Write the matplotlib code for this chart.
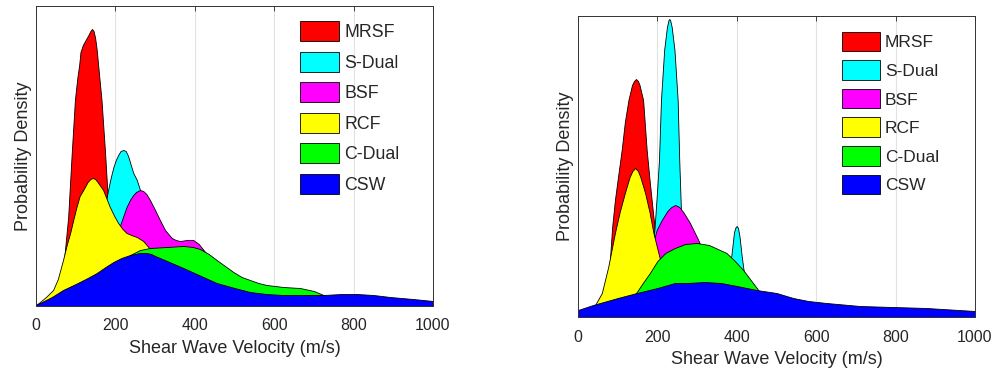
import numpy as np
import matplotlib.pyplot as plt
from matplotlib.patches import Patch

plt.rcParams['font.family'] = ['Liberation Sans', 'DejaVu Sans']

names = ['MRSF', 'S-Dual', 'BSF', 'RCF', 'C-Dual', 'CSW']
colors = ['#ff0000', '#00ffff', '#ff00ff', '#ffff00', '#00ff00', '#0000ff']
xticks = [0, 200, 400, 600, 800, 1000]

# left panel: velocity (m/s) and relative density
mrsf1_v = [30, 50, 60, 68, 73, 81, 90, 98, 104, 109, 112, 118, 125, 132, 137, 141, 145, 149, 153, 157, 165, 174, 180, 188, 200, 215, 240, 280]
mrsf1_d = [0, 3, 15, 35, 56, 89, 153, 206, 228, 242, 254, 261, 266, 271, 275, 277, 275, 268, 256, 239, 206, 153, 113, 70, 35, 15, 5, 0]
sdual1_v = [80, 100, 120, 140, 160, 170, 180, 188, 195, 201, 207, 213, 220, 226, 232, 238, 245, 254, 262, 280, 300, 330, 370, 400, 450, 500, 600, 700]
sdual1_d = [0, 4, 12, 30, 65, 90, 113, 128, 139, 146, 151, 155, 156, 155, 150, 142, 133, 126, 116, 85, 60, 40, 30, 25, 15, 8, 2, 0]
bsf1_v = [100, 120, 140, 160, 180, 200, 212, 228, 238, 245, 252, 262, 270, 278, 287, 300, 312, 325, 342, 352, 363, 380, 396, 410, 426, 440, 460, 500, 550, 600, 700]
bsf1_d = [0, 2, 8, 20, 40, 65, 81, 99, 107, 111, 114, 116, 115, 112, 106, 96, 86, 76, 68, 66, 65, 66, 66, 62, 54, 45, 35, 20, 10, 5, 0]
rcf1_v = [0, 10, 25, 43, 55, 68, 78, 86, 95, 102, 110, 119, 130, 137, 143, 149, 155, 169, 186, 197, 207, 218, 228, 240, 254, 270, 283, 295, 310, 340, 380, 450, 550]
rcf1_d = [1, 4, 9, 16, 27, 46, 62, 73, 88, 99, 110, 116, 124, 127, 128, 127, 124, 116, 99, 90, 83, 77, 73, 71, 69, 65, 59, 50, 40, 25, 12, 4, 0]
cdual1_v = [0, 50, 100, 150, 200, 237, 262, 287, 330, 371, 395, 413, 435, 455, 476, 497, 518, 539, 560, 581, 623, 665, 700, 724, 760, 800, 900, 1000]
cdual1_d = [0, 3, 10, 22, 38, 51, 56, 58, 59, 60, 59, 57, 52, 46, 40, 34, 29, 26, 23, 21, 19, 18, 15, 11, 6, 3, 1, 0]
csw1_v = [0, 20, 40, 68, 100, 130, 153, 175, 195, 215, 237, 250, 260, 270, 279, 290, 300, 330, 371, 410, 455, 500, 539, 580, 623, 680, 724, 770, 808, 850, 892, 950, 1000]
csw1_d = [1, 5, 9, 16, 22, 28, 33, 39, 44, 48, 51, 52, 53, 53, 53, 52, 50, 45, 38, 31, 23, 18, 14, 12, 11, 11, 11, 12, 12, 11, 9, 7, 5]

# right panel
mrsf2_v = [0, 50, 65, 75, 80, 86, 93, 100, 110, 118, 127, 136, 141, 146, 151, 155, 164, 173, 181, 190, 200, 210, 225, 250, 300]
mrsf2_d = [0, 2, 10, 30, 55, 90, 117, 138, 167, 195, 217, 232, 236, 238, 236, 232, 217, 167, 134, 100, 65, 35, 12, 3, 0]
sdual2_v = [150, 160, 175, 185, 193, 199, 204, 209, 217, 224, 228, 230, 232, 236, 243, 251, 255, 259, 265, 275, 300, 340, 370, 380, 387, 393, 397, 400, 403, 407, 412, 416, 425, 440, 480, 550]
sdual2_d = [0, 5, 20, 50, 90, 125, 157, 217, 267, 290, 297, 298, 297, 290, 267, 217, 157, 110, 70, 45, 30, 25, 32, 42, 64, 85, 90, 91, 89, 80, 62, 50, 25, 10, 3, 0]
bsf2_v = [100, 120, 140, 160, 180, 198, 211, 225, 235, 245, 255, 265, 282, 303, 330, 360, 400, 440, 480]
bsf2_d = [0, 4, 12, 30, 60, 87, 97, 106, 110, 112, 110, 105, 94, 77, 50, 30, 15, 6, 0]
rcf2_v = [0, 20, 43, 60, 76, 93, 105, 118, 130, 137, 144, 151, 157, 169, 180, 190, 200, 207, 220, 240, 270, 300, 350]
rcf2_d = [0, 3, 12, 24, 50, 84, 105, 124, 140, 146, 149, 146, 140, 124, 105, 84, 68, 57, 40, 22, 8, 3, 0]
cdual2_v = [60, 100, 130, 148, 165, 181, 200, 220, 244, 270, 299, 330, 374, 395, 416, 435, 454, 480, 520, 580]
cdual2_d = [0, 5, 15, 25, 35, 44, 56, 64, 69, 73, 74, 72, 64, 56, 47, 37, 27, 14, 5, 0]
csw2_v = [0, 38, 100, 148, 200, 244, 274, 320, 360, 400, 450, 500, 542, 580, 626, 710, 793, 878, 1000]
csw2_d = [7, 12, 19, 24, 29, 34, 34, 35, 34, 31, 27, 24, 19, 16, 14, 11, 10, 9, 6]

left = [(mrsf1_v, mrsf1_d), (sdual1_v, sdual1_d), (bsf1_v, bsf1_d),
        (rcf1_v, rcf1_d), (cdual1_v, cdual1_d), (csw1_v, csw1_d)]
right = [(mrsf2_v, mrsf2_d), (sdual2_v, sdual2_d), (bsf2_v, bsf2_d),
         (rcf2_v, rcf2_d), (cdual2_v, cdual2_d), (csw2_v, csw2_d)]

fig = plt.figure(figsize=(9.95, 3.74), dpi=100)
ax1 = fig.add_axes([36 / 995, 68 / 374, 397 / 995, 300 / 374])
ax2 = fig.add_axes([578 / 995, 57 / 374, 397 / 995, 301 / 374])

text_c = '#262626'


def panel(ax, curves, ytop, leg_anchor, fs, spacing):
    for (v, d), c in zip(curves, colors):
        ax.fill_between(v, d, 0, facecolor=c, edgecolor='black', linewidth=0.6)
    ax.set_xlim(0, 1000)
    ax.set_ylim(0, ytop)
    ax.set_xticks(xticks)
    ax.set_yticks([])
    ax.grid(axis='x', color='#e2e2e2', linewidth=0.8)
    ax.set_axisbelow(True)
    ax.tick_params(axis='x', direction='in', top=True, length=3.5, width=0.6,
                   labelsize=11.5, colors=text_c, pad=9)
    for s in ax.spines.values():
        s.set_color('#333333')
        s.set_linewidth(0.7)
    ax.set_xlabel('Shear Wave Velocity (m/s)', fontsize=13, color=text_c, labelpad=5)
    ax.set_ylabel('Probability Density', fontsize=13, color=text_c, labelpad=3)
    handles = [Patch(facecolor=c, edgecolor='black', linewidth=0.6) for c in colors]
    ax.legend(handles, names, loc='upper left', bbox_to_anchor=leg_anchor,
              frameon=False, fontsize=fs, borderpad=0, borderaxespad=0,
              handlelength=2.2, handleheight=1.35, labelspacing=spacing,
              handletextpad=0.3, labelcolor=text_c)


panel(ax1, left, 300, (0.665, 0.95), 12.8, 0.6)
panel(ax2, right, 301, (0.664, 0.947), 12.5, 0.52)

fig.savefig('out.png', dpi=100, facecolor='white')
